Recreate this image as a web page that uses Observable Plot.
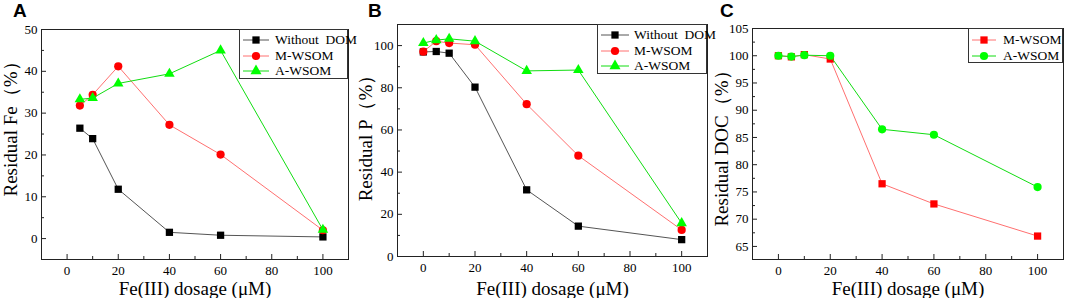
<!DOCTYPE html>
<html>
<head>
<meta charset="utf-8">
<script src="https://cdn.jsdelivr.net/npm/d3@7"></script>
<script src="https://cdn.jsdelivr.net/npm/@observablehq/plot@0.6"></script>
<style>
  html, body { margin: 0; padding: 0; background: #fff; }
  #root { position: relative; width: 1065px; height: 298px; overflow: hidden; font-family: "Liberation Serif", serif; }
  .panel { position: absolute; top: 0; }
  .letter { position: absolute; font-family: "Liberation Sans", Arial, sans-serif; font-weight: bold; font-size: 19px; }
  .legend { position: absolute; border: 1px solid #333; background: #fff; box-sizing: border-box; }
  .legend .row { position: absolute; left: 0; height: 14px; font-size: 13.5px; line-height: 14px; white-space: pre; }
  .legend svg { position: absolute; left: 2px; top: 0; }
  .legend span { position: absolute; top: 0; }
</style>
</head>
<body>
<div id="root"></div>
<script>
// ---------- data ----------
const xA = [5, 10, 20, 40, 60, 100];
const feWithoutDOM = [26.4, 23.9, 11.8, 1.5, 0.8, 0.4];
const feMWSOM = [31.8, 34.4, 41.2, 27.2, 20.1, 2.0];
const feAWSOM = [33.3, 33.6, 37.1, 39.4, 45.0, 2.1];

const xB = [0, 5, 10, 20, 40, 60, 100];
const pWithoutDOM = [97.0, 97.2, 96.4, 80.3, 31.6, 14.4, 8.0];
const pMWSOM = [97.1, 102.1, 101.2, 100.4, 72.2, 47.8, 12.6];
const pAWSOM = [101.2, 102.6, 103.2, 102.1, 88.0, 88.4, 15.8];

const xC = [0, 5, 10, 20, 40, 60, 100];
const docMWSOM = [100.0, 99.8, 100.2, 99.4, 76.5, 72.8, 66.9];
const docAWSOM = [100.0, 99.85, 100.1, 100.0, 86.5, 85.5, 75.9];

const xTickLabels = [0, 20, 40, 60, 80, 100];
const xMinorTicks = [-10, 10, 30, 50, 70, 90, 110];
const yTicksA = [0, 10, 20, 30, 40, 50];
const yTicksB = [0, 20, 40, 60, 80, 100];
const yTicksC = [65, 70, 75, 80, 85, 90, 95, 100, 105];

const xLabel = "Fe(III) dosage (μM)";

// ---------- styles ----------
const SERIF = "Liberation Serif, serif";
const styles = {
  "Without  DOM": {color: "#000000", line: "#555555", symbol: "square"},
  "M-WSOM": {color: "#ff0000", line: "#ff7070", symbol: "circle"},
  "A-WSOM": {color: "#00ff00", line: "#11dd11", symbol: "triangle"}
};
const stylesC = {
  "M-WSOM": {color: "#ff0000", line: "#ff7070", symbol: "square"},
  "A-WSOM": {color: "#00ff00", line: "#11dd11", symbol: "circle"}
};

function rows(xs, ys, name) { return xs.map((x, i) => ({x, y: ys[i], s: name})); }

function makePanel(cfg) {
  const W = cfg.width, H = 298;
  const fw = W - cfg.mL - cfg.mR, fh = H - cfg.mT - cfg.mB;
  const minorY = [];
  for (let i = 0; i < cfg.yTicks.length - 1; i++) minorY.push((cfg.yTicks[i] + cfg.yTicks[i + 1]) / 2);
  const marks = [];
  for (const sr of cfg.series) {
    const st = cfg.styles[sr.name];
    const d = rows(sr.xs, sr.ys, sr.name);
    marks.push(Plot.line(d, {x: "x", y: "y", stroke: st.line, strokeWidth: 1}));
    marks.push(Plot.dot(d, {x: "x", y: "y", symbol: () => st.symbol, fill: st.color, stroke: "none", r: st.symbol === "triangle" ? 3.9 : 4.1}));
  }
  marks.push(
    Plot.tickX(xTickLabels, {x: d => d, insetTop: fh - 5, stroke: "#222"}),
    Plot.tickX(xMinorTicks, {x: d => d, insetTop: fh - 3, stroke: "#222"}),
    Plot.tickY(cfg.yTicks, {y: d => d, insetRight: fw - 5, stroke: "#222"}),
    Plot.tickY(minorY, {y: d => d, insetRight: fw - 3, stroke: "#222"}),
    Plot.axisX(xTickLabels, {tickSize: 0, tickPadding: 6, fontSize: 13, color: "#000", label: null, fontFamily: SERIF}),
    Plot.axisY(cfg.yTicks, {tickSize: 0, tickPadding: 4, fontSize: 13, color: "#000", label: null, fontFamily: SERIF}),
    Plot.frame({stroke: "#222", strokeWidth: 1}),
    Plot.text([cfg.ylabel], {text: d => d, frameAnchor: "left", rotate: -90, dx: -(cfg.mL - cfg.yTitleX), dy: cfg.yTitleDy, fontSize: 19, textAnchor: "middle", fill: "#000", fontFamily: SERIF}),
    Plot.text([xLabel], {text: d => d, frameAnchor: "bottom", dy: cfg.xTitleDy, fontSize: 19, textAnchor: "middle", fill: "#000", fontFamily: SERIF})
  );
  return Plot.plot({
    width: W, height: H,
    marginLeft: cfg.mL, marginRight: cfg.mR, marginTop: cfg.mT, marginBottom: cfg.mB,
    x: {domain: [-10, 110], axis: null},
    y: {domain: cfg.yDomain, axis: null},
    style: {fontFamily: SERIF, fontSize: "13px", color: "#000", background: "transparent", overflow: "visible"},
    marks
  });
}

function makeLegend(root, cfg) {
  const box = document.createElement("div");
  box.className = "legend";
  Object.assign(box.style, {left: cfg.left + "px", top: cfg.top + "px", width: cfg.w + "px", height: cfg.h + "px"});
  cfg.entries.forEach((name, i) => {
    const st = cfg.styles[name];
    const row = document.createElement("div");
    row.className = "row";
    row.style.top = (cfg.rowTop + i * cfg.rowGap - 7) + "px";
    row.style.width = cfg.w + "px";
    const svg = d3.create("svg").attr("width", cfg.lineW + 4).attr("height", 14);
    svg.append("line").attr("x1", 1).attr("x2", cfg.lineW + 1).attr("y1", 7).attr("y2", 7).attr("stroke", st.line);
    svg.append("path").attr("transform", `translate(${cfg.lineW / 2 + 1},7)`)
      .attr("d", d3.symbol(st.symbol === "square" ? d3.symbolSquare : st.symbol === "circle" ? d3.symbolCircle : d3.symbolTriangle, Math.PI * 4.1 * 4.1)())
      .attr("fill", st.color);
    row.appendChild(svg.node());
    const sp = document.createElement("span");
    sp.textContent = name;
    sp.style.left = cfg.textX + "px";
    row.appendChild(sp);
    box.appendChild(row);
  });
  root.appendChild(box);
}

const root = document.getElementById("root");

const panels = [
  {left: 0, width: 355, mL: 41, mR: 7, mT: 29, mB: 39, xTitleDy: 35, yTitleX: 10, yTitleDy: -20, yDomain: [-5, 50], yTicks: yTicksA, ylabel: "Residual Fe（%）", styles,
   series: [{name: "Without  DOM", xs: xA, ys: feWithoutDOM}, {name: "M-WSOM", xs: xA, ys: feMWSOM}, {name: "A-WSOM", xs: xA, ys: feAWSOM}], letter: "A", letterX: 13},
  {left: 355, width: 355, mL: 42, mR: 3, mT: 24, mB: 42, xTitleDy: 38, yTitleX: 10.5, yTitleDy: -7, yDomain: [0, 110], yTicks: yTicksB, ylabel: "Residual P（%）", styles,
   series: [{name: "Without  DOM", xs: xB, ys: pWithoutDOM}, {name: "M-WSOM", xs: xB, ys: pMWSOM}, {name: "A-WSOM", xs: xB, ys: pAWSOM}], letter: "B", letterX: 368},
  {left: 710, width: 355, mL: 42, mR: 2, mT: 28, mB: 39, xTitleDy: 35, yTitleX: 11.5, yTitleDy: 0, yDomain: [62.6, 105], yTicks: yTicksC, ylabel: "Residual DOC（%）", styles: stylesC,
   series: [{name: "M-WSOM", xs: xC, ys: docMWSOM}, {name: "A-WSOM", xs: xC, ys: docAWSOM}], letter: "C", letterX: 720}
];

for (const p of panels) {
  const el = makePanel(p);
  el.classList.add("panel");
  el.style.left = p.left + "px";
  el.style.position = "absolute";
  root.appendChild(el);
  const L = document.createElement("div");
  L.className = "letter";
  L.textContent = p.letter;
  L.style.left = p.letterX + "px";
  L.style.top = "0px";
  root.appendChild(L);
}

makeLegend(root, {left: 239, top: 29, w: 109, h: 50, rowTop: 10, rowGap: 15.5, lineW: 26, textX: 35, entries: ["Without  DOM", "M-WSOM", "A-WSOM"], styles});
makeLegend(root, {left: 597, top: 24, w: 110, h: 50, rowTop: 10, rowGap: 15.5, lineW: 28, textX: 36, entries: ["Without  DOM", "M-WSOM", "A-WSOM"], styles});
makeLegend(root, {left: 968, top: 28, w: 95, h: 35, rowTop: 10.5, rowGap: 16, lineW: 24, textX: 34, entries: ["M-WSOM", "A-WSOM"], styles: stylesC});
</script>
</body>
</html>
